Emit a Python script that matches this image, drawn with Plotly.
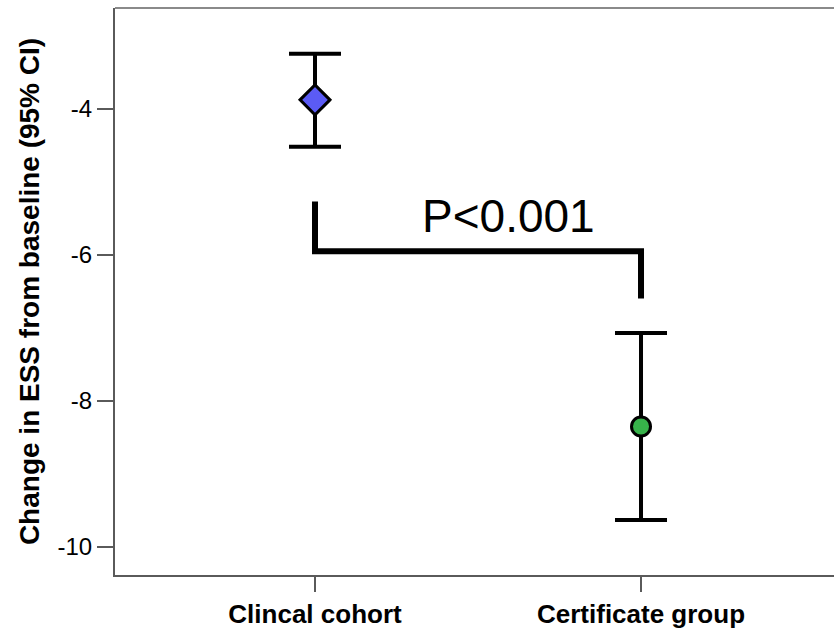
import plotly.graph_objects as go

# Mean change in ESS with 95% confidence limits
groups = ["Clincal cohort", "Certificate group"]
means = [-3.88, -8.35]
ci_low = [-4.52, -9.63]
ci_high = [-3.25, -7.07]
marker_symbols = ["diamond", "circle"]
marker_colors = ["#5B5BF5", "#37B24A"]
marker_sizes = [23, 19]

# Significance bracket between the two groups
bracket_x = [groups[0], groups[0], groups[1], groups[1]]
bracket_y = [-5.27, -5.95, -5.95, -6.6]
p_label = "P<0.001"

y_ticks = [-10, -8, -6, -4]

font_family = "Liberation Sans, Arial, sans-serif"

fig = go.Figure()

fig.add_trace(go.Scatter(
    x=bracket_x, y=bracket_y, mode="lines",
    line=dict(color="black", width=6),
    hoverinfo="skip", showlegend=False,
))

fig.add_trace(go.Scatter(
    x=groups, y=means, mode="markers",
    marker=dict(symbol=marker_symbols, color=marker_colors, size=marker_sizes,
                opacity=1, line=dict(color="black", width=3)),
    error_y=dict(type="data", symmetric=False,
                 array=[h - m for h, m in zip(ci_high, means)],
                 arrayminus=[m - l for m, l in zip(means, ci_low)],
                 color="black", thickness=4, width=26),
    showlegend=False,
))

fig.add_annotation(
    x=0.595, y=-5.47, xref="x", yref="y", text=p_label, showarrow=False,
    font=dict(family=font_family, size=46, color="black"),
    xanchor="center", yanchor="middle",
)

# Upper frame line in lighter grey
fig.add_shape(type="line", xref="paper", yref="paper", x0=0, x1=1, y0=1, y1=1,
              line=dict(color="#8a8a8a", width=2))

fig.update_layout(
    width=834, height=629,
    margin=dict(l=115, r=0, t=8, b=51),
    paper_bgcolor="white", plot_bgcolor="white",
    font=dict(family=font_family, color="black"),
    xaxis=dict(
        type="category", range=[-0.6135, 1.592],
        showline=True, linecolor="#5a5a5a", linewidth=2,
        ticks="outside", ticklen=15, tickwidth=2, tickcolor="#5a5a5a",
        tickfont=dict(family=font_family, size=26, color="black", weight="bold"),
        showgrid=False, zeroline=False,
    ),
    yaxis=dict(
        range=[-10.382, -2.623], tickvals=y_ticks,
        ticktext=[str(v) for v in y_ticks],
        showline=True, linecolor="#5a5a5a", linewidth=2,
        ticks="outside", ticklen=16, tickwidth=2, tickcolor="#5a5a5a",
        tickfont=dict(family=font_family, size=24, color="black"),
        showgrid=False, zeroline=False,
        title=dict(text="Change in ESS from baseline (95% CI)",
                   font=dict(family=font_family, size=28, color="black", weight="bold"),
                   standoff=10),
    ),
)

fig.write_html("out.html")
